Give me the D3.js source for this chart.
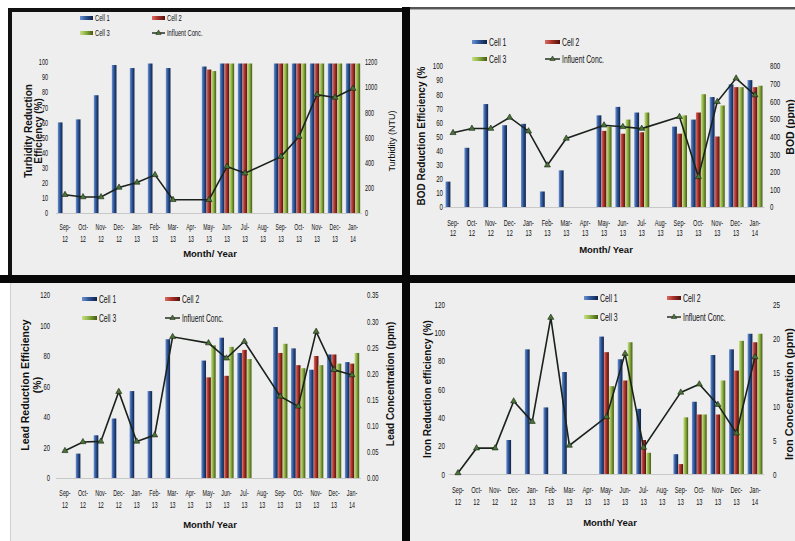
<!DOCTYPE html>
<html><head><meta charset="utf-8">
<script src="https://cdn.jsdelivr.net/npm/d3@7"></script>
<style>
body{margin:0;background:#fff;}
svg text{font-family:"Liberation Sans",Arial,sans-serif;fill:#111;}
</style></head><body>
<svg id="c" width="795" height="541"></svg>
<script>
// ---------- DATA ----------
const months = ["Sep-12","Oct-12","Nov-12","Dec-12","Jan-13","Feb-13","Mar-13","Apr-13","May-13","Jun-13","Jul-13","Aug-13","Sep-13","Oct-13","Nov-13","Dec-13","Jan-14"];
const seriesNames = ["Cell 1","Cell 2","Cell 3"];
const lineName = "Influent Conc.";

// Turbidity (% reduction) and influent turbidity (NTU)
const turbCell1 = [60,62,78,98,96,99,96,null,97,99,99,null,99,99,99,99,99];
const turbCell2 = [null,null,null,null,null,null,null,null,95,99,99,null,99,99,99,99,99];
const turbCell3 = [null,null,null,null,null,null,null,null,94,99,99,null,99,99,99,99,99];
const turbInfluent = [145,127,127,203,243,303,105,null,105,369,316,null,448,607,941,918,989];
const turbLeftTicks = [0,10,20,30,40,50,60,70,80,90,100];
const turbRightTicks = [0,200,400,600,800,1000,1200];

// BOD (% reduction) and influent BOD (ppm)
const bodCell1 = [18,42,73,58,59,11,26,null,65,71,67,null,57,62,78,87,90];
const bodCell2 = [null,null,null,null,null,null,null,null,54,52,53,null,52,67,50,85,85];
const bodCell3 = [null,null,null,null,null,null,null,null,57,62,67,null,65,80,72,85,86];
const bodInfluent = [421,445,445,508,430,237,389,null,464,455,445,null,512,171,597,730,635];
const bodLeftTicks = [0,10,20,30,40,50,60,70,80,90,100];
const bodRightTicks = [0,100,200,300,400,500,600,700,800];

// Lead (% reduction) and influent lead (ppm)
const leadCell1 = [null,16,28,39,57,57,91,null,77,92,82,null,99,85,71,81,76];
const leadCell2 = [null,null,null,null,null,null,null,null,66,67,84,null,82,74,80,81,75];
const leadCell3 = [null,null,null,null,null,null,null,null,87,86,78,null,88,72,74,75,82];
const leadInfluent = [0.052,0.069,0.070,0.165,0.070,0.082,0.270,null,0.258,0.229,0.261,null,0.156,0.137,0.280,0.207,0.197];
const leadLeftTicks = [0,20,40,60,80,100,120];
const leadRightTicks = [0,0.05,0.10,0.15,0.20,0.25,0.30,0.35];

// Iron (% reduction) and influent iron (ppm)
const ironCell1 = [null,null,null,24,88,47,72,null,97,81,46,null,14,51,84,88,99];
const ironCell2 = [null,null,null,null,null,null,null,null,86,66,24,null,7,42,42,73,93];
const ironCell3 = [null,null,null,null,null,null,null,null,62,93,15,null,40,42,66,94,99];
const ironInfluent = [0.15,3.8,3.8,10.7,7.7,23.0,4.2,null,8.4,17.7,3.9,null,12.0,13.2,10.2,6.0,17.2];
const ironLeftTicks = [0,20,40,60,80,100,120];
const ironRightTicks = [0,5,10,15,20,25];

// ---------- DRAW ----------
const svg = d3.select("#c");
const defs = svg.append("defs");
const gradStops = [
  ["#6a93d2","#2f5597","#0f2146"],
  ["#dc6c64","#a8322a","#520f0b"],
  ["#c6e086","#8db043","#425a12"]
];
gradStops.forEach((s,i)=>{
  const g = defs.append("linearGradient").attr("id","grad"+i).attr("x1","0").attr("x2","1").attr("y1","0").attr("y2","0");
  g.append("stop").attr("offset","0%").attr("stop-color",s[0]);
  g.append("stop").attr("offset","45%").attr("stop-color",s[1]);
  g.append("stop").attr("offset","100%").attr("stop-color",s[2]);
});

// backgrounds + frame
const bg = "#eeeeee";
[[12,12,390,263],[410,10,385,265],[10,283,392,258],[410,283,385,258]].forEach(r=>{
  svg.append("rect").attr("x",r[0]).attr("y",r[1]).attr("width",r[2]).attr("height",r[3]).attr("fill",bg);
});
svg.append("rect").attr("x",410).attr("y",7).attr("width",385).attr("height",2.5).attr("fill","#555");
svg.append("rect").attr("x",8).attr("y",8).attr("width",394).attr("height",4).attr("fill","#111");
svg.append("rect").attr("x",8).attr("y",8).attr("width",4).attr("height",267).attr("fill","#111");
svg.append("rect").attr("x",402).attr("y",7).attr("width",8).attr("height",534).attr("fill","#080808");
svg.append("rect").attr("x",0).attr("y",275).attr("width",795).attr("height",8).attr("fill","#080808");
svg.append("line").attr("x1",10.5).attr("x2",10.5).attr("y1",283).attr("y2",541).attr("stroke","#cfcfcf");

function squish(sel, k){
  sel.each(function(){
    const L = this.getComputedTextLength();
    if (L>0){ this.setAttribute("textLength", (L*k).toFixed(2)); this.setAttribute("lengthAdjust","spacingAndGlyphs"); }
  });
}

function drawPanel(c){
  const g = svg.append("g");
  const x = d3.scaleBand().domain(months).range([c.x0, c.x1]);
  const xs = d3.scaleBand().domain(seriesNames).range([0, x.bandwidth()]).paddingInner(0.04).paddingOuter(0.38);
  const yL = d3.scaleLinear().domain([0, c.leftTicks[c.leftTicks.length-1]]).range([c.yb, c.yt]);
  const yR = d3.scaleLinear().domain([0, c.rightTicks[c.rightTicks.length-1]]).range([c.yb, c.yt]);

  // baseline
  g.append("line").attr("x1",c.x0).attr("x2",c.x1).attr("y1",c.yb+0.5).attr("y2",c.yb+0.5).attr("stroke","#c8c8c8");

  // bars
  c.cells.forEach((vals,i)=>{
    const d = months.map((m,j)=>({m, v: vals[j]})).filter(e=>e.v!=null);
    g.append("g").selectAll("rect").data(d).join("rect")
      .attr("x", e=>x(e.m)+xs(seriesNames[i]))
      .attr("y", e=>yL(e.v))
      .attr("width", xs.bandwidth())
      .attr("height", e=>yL(0)-yL(e.v))
      .attr("fill", "url(#grad"+i+")");
  });

  // influent line
  const pts = months.map((m,j)=>({m, v: c.influent[j]})).filter(e=>e.v!=null);
  const line = d3.line().x(e=>x(e.m)+x.bandwidth()/2).y(e=>yR(e.v));
  g.append("path").datum(pts).attr("d", line).attr("fill","none").attr("stroke","#1b221b").attr("stroke-width",1.6);
  g.append("g").selectAll("path").data(pts).join("path")
    .attr("transform", e=>`translate(${x(e.m)+x.bandwidth()/2},${yR(e.v)})`)
    .attr("d", d3.symbol(d3.symbolTriangle, 16))
    .attr("fill","#4a7434").attr("stroke","#172017").attr("stroke-width",0.6);

  const tickStyle = s => s.attr("font-size",c.tickFs).attr("font-family","Liberation Sans, Arial, sans-serif").attr("fill","#111");

  // left axis
  const aL = g.append("g").attr("transform",`translate(${c.lx},0)`)
    .call(d3.axisLeft(yL).tickValues(c.leftTicks).tickSize(0).tickPadding(0).tickFormat(d3.format("d")));
  aL.select(".domain").remove();
  tickStyle(aL.selectAll("text"));
  squish(aL.selectAll("text"), c.sq);

  // right axis
  const aR = g.append("g").attr("transform",`translate(${c.rx},0)`)
    .call(d3.axisRight(yR).tickValues(c.rightTicks).tickSize(0).tickPadding(0).tickFormat(c.rFmt));
  aR.select(".domain").remove();
  tickStyle(aR.selectAll("text"));
  squish(aR.selectAll("text"), c.sq);

  // x axis (two-line labels)
  const aX = g.append("g").attr("transform",`translate(0,${c.yb})`)
    .call(d3.axisBottom(x).tickSize(0));
  aX.select(".domain").remove();
  aX.selectAll("text").each(function(d){
    const t = d3.select(this);
    const parts = d.split("-");
    t.text(null).attr("dy",null).attr("y",null);
    tickStyle(t);
    t.append("tspan").attr("x",0).attr("y",c.xl1-c.yb).text(parts[0]+"-");
    t.append("tspan").attr("x",0).attr("y",c.xl2-c.yb).text(parts[1]);
  });
  squish(aX.selectAll("tspan"), c.sqx);

  // x title
  g.append("text").attr("x",c.xtX).attr("y",c.xtY).attr("text-anchor","middle")
    .attr("font-size",9.5).attr("font-weight","bold").text("Month/ Year");

  // y titles
  c.leftTitle.forEach((t,i)=>{
    g.append("text").attr("transform",`translate(${c.ltX[i]},${c.ltY}) rotate(-90)`)
      .attr("text-anchor","middle").attr("dominant-baseline","central")
      .attr("font-size",c.ltFs).attr("font-weight","bold").text(t);
  });
  g.append("text").attr("transform",`translate(${c.rtX},${c.rtY}) rotate(-90)`)
    .attr("text-anchor","middle").attr("dominant-baseline","central")
    .attr("font-size",c.rtFs).attr("font-weight",c.rtW).text(c.rightTitle);

  // legend
  const L = c.leg;
  const items = [
    {name: seriesNames[0], x: L.c1, y: L.r1, type: 0},
    {name: seriesNames[1], x: L.c2, y: L.r1, type: 1},
    {name: seriesNames[2], x: L.c1, y: L.r2, type: 2},
    {name: lineName, x: L.c2, y: L.r2, type: "line"}
  ];
  items.forEach(it=>{
    if (it.type==="line"){
      g.append("line").attr("x1",it.x).attr("x2",it.x+L.w).attr("y1",it.y).attr("y2",it.y).attr("stroke","#1b221b").attr("stroke-width",1.4);
      g.append("path").attr("transform",`translate(${it.x+L.w/2},${it.y})`).attr("d",d3.symbol(d3.symbolTriangle,12)).attr("fill","#4a7434").attr("stroke","#172017").attr("stroke-width",0.5);
    } else {
      g.append("rect").attr("x",it.x).attr("y",it.y-2).attr("width",L.w).attr("height",4).attr("fill","url(#grad"+it.type+")");
    }
    const t = g.append("text").attr("x",it.x+L.w+2).attr("y",it.y).attr("dominant-baseline","central")
      .attr("font-size",L.fs).attr("fill","#111").text(it.name);
    squish(t, c.sq);
  });
}

drawPanel({
  x0:56, x1:362, yb:213, yt:62, leftTicks:turbLeftTicks, rightTicks:turbRightTicks, rFmt:d3.format("d"),
  cells:[turbCell1,turbCell2,turbCell3], influent:turbInfluent,
  lx:48, rx:365, tickFs:8.6, sq:0.64, sqx:0.6, xl1:230, xl2:242, xtX:210, xtY:257,
  leftTitle:["Turbidity Reduction","Efficiency (%)"], ltX:[28,38], ltY:131, ltFs:10,
  rightTitle:"Turbidity (NTU)", rtX:392, rtY:141, rtFs:9, rtW:"normal",
  leg:{c1:80, c2:152, r1:18, r2:33, w:13, fs:9}
});
drawPanel({
  x0:443.6, x1:764.4, yb:207, yt:66, leftTicks:bodLeftTicks, rightTicks:bodRightTicks, rFmt:d3.format("d"),
  cells:[bodCell1,bodCell2,bodCell3], influent:bodInfluent,
  lx:443, rx:770, tickFs:9, sq:0.68, sqx:0.62, xl1:226, xl2:236, xtX:606, xtY:253,
  leftTitle:["BOD Reduction Efficiency (%"], ltX:[421], ltY:136, ltFs:10,
  rightTitle:"BOD (ppm)", rtX:790, rtY:127, rtFs:10.5, rtW:"bold",
  leg:{c1:472, c2:545, r1:42, r2:59, w:15, fs:10}
});
drawPanel({
  x0:56, x1:361, yb:478, yt:295, leftTicks:leadLeftTicks, rightTicks:leadRightTicks, rFmt:d3.format(".2f"),
  cells:[leadCell1,leadCell2,leadCell3], influent:leadInfluent,
  lx:50, rx:367, tickFs:9.2, sq:0.64, sqx:0.58, xl1:496, xl2:508, xtX:210, xtY:528,
  leftTitle:["Lead Reduction Efficiency","(%)"], ltX:[25,37], ltY:385, ltFs:10.5,
  rightTitle:"Lead Concentration (ppm)", rtX:390, rtY:384, rtFs:10, rtW:"bold",
  leg:{c1:82, c2:165, r1:299, r2:318, w:15, fs:10.5}
});
drawPanel({
  x0:448.7, x1:764.3, yb:474, yt:304, leftTicks:ironLeftTicks, rightTicks:ironRightTicks, rFmt:d3.format("d"),
  cells:[ironCell1,ironCell2,ironCell3], influent:ironInfluent,
  lx:445, rx:773, tickFs:9.5, sq:0.66, sqx:0.6, xl1:493, xl2:505, xtX:610, xtY:526,
  leftTitle:["Iron Reduction efficiency (%)"], ltX:[427], ltY:389, ltFs:10,
  rightTitle:"Iron Concentration (ppm)", rtX:789, rtY:394, rtFs:11, rtW:"bold",
  leg:{c1:584, c2:667, r1:298, r2:317, w:14, fs:10.5}
});
</script>
</body></html>
